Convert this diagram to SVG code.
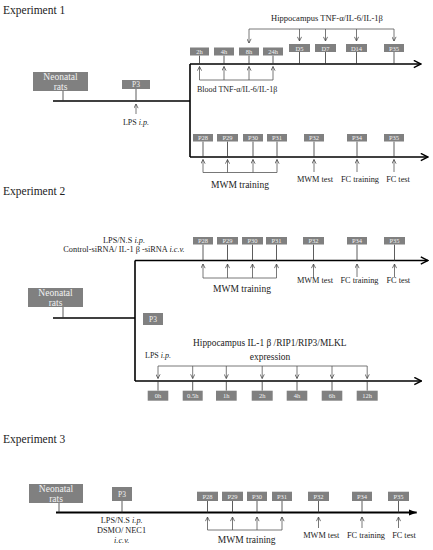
<svg xmlns="http://www.w3.org/2000/svg" width="433" height="550" viewBox="0 0 433 550">
<defs>
<style>
text{font-family:"Liberation Serif","Times New Roman",serif;fill:#222}
.title{font-size:11.5px}
.bx{fill:#808080}
.bt{fill:#f2f2f2;font-size:6.5px;text-anchor:middle}
.bn{fill:#f2f2f2;font-size:9.5px;text-anchor:middle}
.tl{stroke:#000;stroke-width:1.6;fill:none}
.tk{stroke:#333;stroke-width:0.8;fill:none}
.br{stroke:#555;stroke-width:0.8;fill:none}
.ar{stroke:#555;stroke-width:0.8;fill:none;marker-end:url(#ah)}
.lb{font-size:8.3px;text-anchor:middle}
.lm{font-size:9.5px;text-anchor:middle}
</style>
<marker id="ah" viewBox="0 0 6 6" refX="5.5" refY="3" markerWidth="5" markerHeight="5" markerUnits="userSpaceOnUse" orient="auto"><path d="M0.5,0.5 L5.5,3 L0.5,5.5" fill="none" stroke="#444" stroke-width="0.9"/></marker>
<marker id="big" viewBox="0 0 10 10" refX="9" refY="5" markerWidth="9" markerHeight="9" markerUnits="userSpaceOnUse" orient="auto"><path d="M1,1 L9,5 L1,9" fill="none" stroke="#000" stroke-width="1.6"/></marker>
<marker id="fil" viewBox="0 0 10 10" refX="10" refY="5" markerWidth="8" markerHeight="8" markerUnits="userSpaceOnUse" orient="auto"><path d="M0,1 L10,5 L0,9 Z" fill="#000"/></marker>
</defs>

<!-- ============ Experiment 1 ============ -->
<text class="title" x="3" y="13.5">Experiment 1</text>

<g id="e1-connectors">
<path class="tl" d="M53,101 H190"/>
<path class="tl" d="M190,64 V157"/>
<path class="tl" d="M190,64 H421" marker-end="url(#big)"/>
<path class="tl" d="M190,157 H428" marker-end="url(#big)"/>
<path class="tk" d="M63,91 V101 M136,89 V101"/>
<path class="tk" d="M199.5,55.5 V64 M224,55.5 V64 M249,55.5 V64 M273,55.5 V64 M299.5,52 V64 M325.5,52 V64 M356.5,52 V64 M394,52 V64"/>
<path class="tk" d="M203,141.5 V157 M227.5,141.5 V157 M253,141.5 V157 M277,141.5 V157 M314,141.5 V157 M357,141.5 V157 M394,141.5 V157"/>
<path class="ar" d="M136,114 V104"/>
<path class="br" d="M249,29 H394"/>
<path class="ar" d="M249,29 V43"/>
<path class="ar" d="M299.5,29 V41"/>
<path class="ar" d="M325.5,29 V41"/>
<path class="ar" d="M356.5,29 V41"/>
<path class="ar" d="M394,29 V41"/>
<path class="br" d="M199.5,80 H273"/>
<path class="ar" d="M199.5,80 V66.5"/>
<path class="ar" d="M224,80 V66.5"/>
<path class="ar" d="M249,80 V66.5"/>
<path class="ar" d="M273,80 V66.5"/>
<path class="br" d="M203,172.5 H277"/>
<path class="ar" d="M203,172.5 V159.5"/>
<path class="ar" d="M227.5,172.5 V159.5"/>
<path class="ar" d="M253,172.5 V159.5"/>
<path class="ar" d="M277,172.5 V159.5"/>
<path class="ar" d="M314,172 V159.5"/>
<path class="ar" d="M357,172 V159.5"/>
<path class="ar" d="M394,172 V159.5"/>
</g>

<g id="e1-neonatal"><rect class="bx" x="33" y="72" width="55" height="19"/><text class="bn" x="60.5" y="80">Neonatal</text><text class="bn" x="60.5" y="89.5">rats</text></g>
<g id="e1-p3"><rect class="bx" x="122" y="80" width="28" height="9"/><text class="bt" x="136" y="87" style="font-size:7.5px">P3</text></g>
<g id="e1-2h"><rect class="bx" x="190" y="47.5" width="19" height="8"/><text class="bt" x="199.5" y="54">2h</text></g>
<g id="e1-4h"><rect class="bx" x="214" y="47.5" width="20" height="8"/><text class="bt" x="224" y="54">4h</text></g>
<g id="e1-8h"><rect class="bx" x="239" y="47.5" width="20" height="8"/><text class="bt" x="249" y="54">8h</text></g>
<g id="e1-24h"><rect class="bx" x="263" y="47.5" width="20" height="8"/><text class="bt" x="273" y="54">24h</text></g>
<g id="e1-d5"><rect class="bx" x="289" y="44" width="21" height="8"/><text class="bt" x="299.5" y="50.5">D5</text></g>
<g id="e1-d7"><rect class="bx" x="315" y="44" width="21" height="8"/><text class="bt" x="325.5" y="50.5">D7</text></g>
<g id="e1-d14"><rect class="bx" x="346" y="44" width="21" height="8"/><text class="bt" x="356.5" y="50.5">D14</text></g>
<g id="e1-p35a"><rect class="bx" x="384" y="44" width="20" height="8"/><text class="bt" x="394" y="50.5">P35</text></g>
<g id="e1-p28"><rect class="bx" x="193" y="134" width="20" height="7.5"/><text class="bt" x="203" y="140.3">P28</text></g>
<g id="e1-p29"><rect class="bx" x="217" y="134" width="21" height="7.5"/><text class="bt" x="227.5" y="140.3">P29</text></g>
<g id="e1-p30"><rect class="bx" x="243" y="134" width="20" height="7.5"/><text class="bt" x="253" y="140.3">P30</text></g>
<g id="e1-p31"><rect class="bx" x="267" y="134" width="20" height="7.5"/><text class="bt" x="277" y="140.3">P31</text></g>
<g id="e1-p32"><rect class="bx" x="304" y="134" width="20" height="7.5"/><text class="bt" x="314" y="140.3">P32</text></g>
<g id="e1-p34"><rect class="bx" x="347" y="134" width="20" height="7.5"/><text class="bt" x="357" y="140.3">P34</text></g>
<g id="e1-p35b"><rect class="bx" x="384" y="134" width="20" height="7.5"/><text class="bt" x="394" y="140.3">P35</text></g>

<g id="e1-labels">
<text class="lb" x="136" y="125" style="font-size:8px">LPS <tspan font-style="italic">i.p.</tspan></text>
<text class="lb" x="327" y="21" style="font-size:8.5px">Hippocampus TNF-α/IL-6/IL-1β</text>
<text x="197" y="92" style="font-size:8px">Blood TNF-α/IL-6/IL-1β</text>
<text class="lm" x="240" y="188">MWM training</text>
<text class="lb" x="315" y="181.5">MWM test</text>
<text class="lb" x="360" y="181.5">FC training</text>
<text class="lb" x="398" y="181.5">FC test</text>
</g>

<!-- ============ Experiment 2 ============ -->
<text class="title" x="3" y="194.5">Experiment 2</text>

<g id="e2-connectors">
<path class="tl" d="M53,318 H135"/>
<path class="tl" d="M135,260.5 V381"/>
<path class="tl" d="M135,260.5 H428" marker-end="url(#big)"/>
<path class="tl" d="M135,381 H421.5" marker-end="url(#big)"/>
<path class="tk" d="M63,307 V318"/>
<path class="tk" d="M203,244.5 V260.5 M227.5,244.5 V260.5 M252.5,244.5 V260.5 M276.5,244.5 V260.5 M313.5,244.5 V260.5 M357,244.5 V260.5 M394.5,244.5 V260.5"/>
<path class="br" d="M203,278 H276.5"/>
<path class="ar" d="M203,278 V264"/>
<path class="ar" d="M227.5,278 V264"/>
<path class="ar" d="M252.5,278 V264"/>
<path class="ar" d="M276.5,278 V264"/>
<path class="ar" d="M313.5,277 V264"/>
<path class="ar" d="M357,277 V264"/>
<path class="ar" d="M394.5,277 V264"/>
<path class="br" d="M158,366 H367.2"/>
<path class="ar" d="M158,366 V378.5"/>
<path class="ar" d="M192.7,366 V378.5"/>
<path class="ar" d="M226.3,366 V378.5"/>
<path class="ar" d="M262.2,366 V378.5"/>
<path class="ar" d="M297,366 V378.5"/>
<path class="ar" d="M332,366 V378.5"/>
<path class="ar" d="M367.2,366 V378.5"/>
<path class="tk" d="M158,381 V390.7 M192.7,381 V390.7 M226.3,381 V390.7 M262.2,381 V390.7 M297,381 V390.7 M332,381 V390.7 M367.2,381 V390.7"/>
</g>

<g id="e2-neonatal"><rect class="bx" x="28" y="288" width="55" height="19"/><text class="bn" x="55.5" y="296">Neonatal</text><text class="bn" x="55.5" y="305.5">rats</text></g>
<g id="e2-p3"><rect class="bx" x="143" y="313" width="20" height="12"/><text class="bt" x="153" y="321.5" style="font-size:7.5px">P3</text></g>
<g id="e2-p28"><rect class="bx" x="193" y="237" width="20" height="7.5"/><text class="bt" x="203" y="243.3">P28</text></g>
<g id="e2-p29"><rect class="bx" x="217" y="237" width="21" height="7.5"/><text class="bt" x="227.5" y="243.3">P29</text></g>
<g id="e2-p30"><rect class="bx" x="242" y="237" width="21" height="7.5"/><text class="bt" x="252.5" y="243.3">P30</text></g>
<g id="e2-p31"><rect class="bx" x="266" y="237" width="21" height="7.5"/><text class="bt" x="276.5" y="243.3">P31</text></g>
<g id="e2-p32"><rect class="bx" x="303" y="237" width="21" height="7.5"/><text class="bt" x="313.5" y="243.3">P32</text></g>
<g id="e2-p34"><rect class="bx" x="347" y="237" width="20" height="7.5"/><text class="bt" x="357" y="243.3">P34</text></g>
<g id="e2-p35"><rect class="bx" x="384" y="237" width="21" height="7.5"/><text class="bt" x="394.5" y="243.3">P35</text></g>
<g id="e2-0h"><rect class="bx" x="147.7" y="390.7" width="20.6" height="10"/><text class="bt" x="158" y="398">0h</text></g>
<g id="e2-05h"><rect class="bx" x="182.7" y="390.7" width="20" height="10"/><text class="bt" x="192.7" y="398">0.5h</text></g>
<g id="e2-1h"><rect class="bx" x="216" y="390.7" width="20.7" height="10"/><text class="bt" x="226.3" y="398">1h</text></g>
<g id="e2-2h"><rect class="bx" x="251.7" y="390.7" width="21" height="10"/><text class="bt" x="262.2" y="398">2h</text></g>
<g id="e2-4h"><rect class="bx" x="286.7" y="390.7" width="20.6" height="10"/><text class="bt" x="297" y="398">4h</text></g>
<g id="e2-6h"><rect class="bx" x="321.7" y="390.7" width="20.6" height="10"/><text class="bt" x="332" y="398">6h</text></g>
<g id="e2-12h"><rect class="bx" x="356.7" y="390.7" width="21" height="10"/><text class="bt" x="367.2" y="398">12h</text></g>

<g id="e2-labels">
<text class="lb" x="124" y="242.7">LPS/N.S <tspan font-style="italic">i.p.</tspan></text>
<text class="lb" x="124" y="252">Control-siRNA/ IL-1 β -siRNA <tspan font-style="italic">i.c.v.</tspan></text>
<text class="lm" x="242" y="291.7">MWM training</text>
<text class="lb" x="315" y="283.3">MWM test</text>
<text class="lb" x="359.5" y="283.3">FC training</text>
<text class="lb" x="398.3" y="283.3">FC test</text>
<text x="193" y="346" style="font-size:9.4px">Hippocampus IL-1 β /RIP1/RIP3/MLKL</text>
<text class="lm" x="270" y="360">expression</text>
<text x="145" y="358" style="font-size:8px">LPS <tspan font-style="italic">i.p.</tspan></text>
</g>

<!-- ============ Experiment 3 ============ -->
<text class="title" x="3" y="443">Experiment 3</text>

<g id="e3-connectors">
<path class="tl" d="M56,512.5 H416.7" style="stroke-width:2" marker-end="url(#fil)"/>
<path class="tk" d="M59,503 V512.5 M122,501 V512.5"/>
<path class="tk" d="M207.5,501 V512.5 M232.5,501 V512.5 M257,501 V512.5 M282,501 V512.5 M318.5,501 V512.5 M362,501 V512.5 M398.5,501 V512.5"/>
<path class="br" d="M207.5,530 H282"/>
<path class="ar" d="M207.5,530 V517"/>
<path class="ar" d="M232.5,530 V517"/>
<path class="ar" d="M257,530 V517"/>
<path class="ar" d="M282,530 V517"/>
<path class="ar" d="M318.5,528 V517"/>
<path class="ar" d="M362,528 V517"/>
<path class="ar" d="M398.5,528 V517"/>
</g>

<g id="e3-neonatal"><rect class="bx" x="29" y="484" width="54" height="19"/><text class="bn" x="56" y="492">Neonatal</text><text class="bn" x="56" y="501.5">rats</text></g>
<g id="e3-p3"><rect class="bx" x="112" y="487" width="20" height="14"/><text class="bt" x="122" y="496.5" style="font-size:7.5px">P3</text></g>
<g id="e3-p28"><rect class="bx" x="197" y="491.7" width="21" height="9.3"/><text class="bt" x="207.5" y="498.7">P28</text></g>
<g id="e3-p29"><rect class="bx" x="222" y="491.7" width="21" height="9.3"/><text class="bt" x="232.5" y="498.7">P29</text></g>
<g id="e3-p30"><rect class="bx" x="247" y="491.7" width="20" height="9.3"/><text class="bt" x="257" y="498.7">P30</text></g>
<g id="e3-p31"><rect class="bx" x="272" y="491.7" width="20" height="9.3"/><text class="bt" x="282" y="498.7">P31</text></g>
<g id="e3-p32"><rect class="bx" x="308" y="491.7" width="21" height="9.3"/><text class="bt" x="318.5" y="498.7">P32</text></g>
<g id="e3-p34"><rect class="bx" x="352" y="491.7" width="20" height="9.3"/><text class="bt" x="362" y="498.7">P34</text></g>
<g id="e3-p35"><rect class="bx" x="388" y="491.7" width="21" height="9.3"/><text class="bt" x="398.5" y="498.7">P35</text></g>

<g id="e3-labels">
<text class="lb" x="121.7" y="523.3">LPS/N.S <tspan font-style="italic">i.p.</tspan></text>
<text class="lb" x="121.5" y="533.3">DSMO/ NEC1</text>
<text class="lb" x="121.7" y="542.7" font-style="italic">i.c.v.</text>
<text class="lm" x="246.7" y="543.3">MWM training</text>
<text class="lb" x="321.3" y="538.3">MWM test</text>
<text class="lb" x="366" y="538.3">FC training</text>
<text class="lb" x="404" y="538.3">FC test</text>
</g>
</svg>
